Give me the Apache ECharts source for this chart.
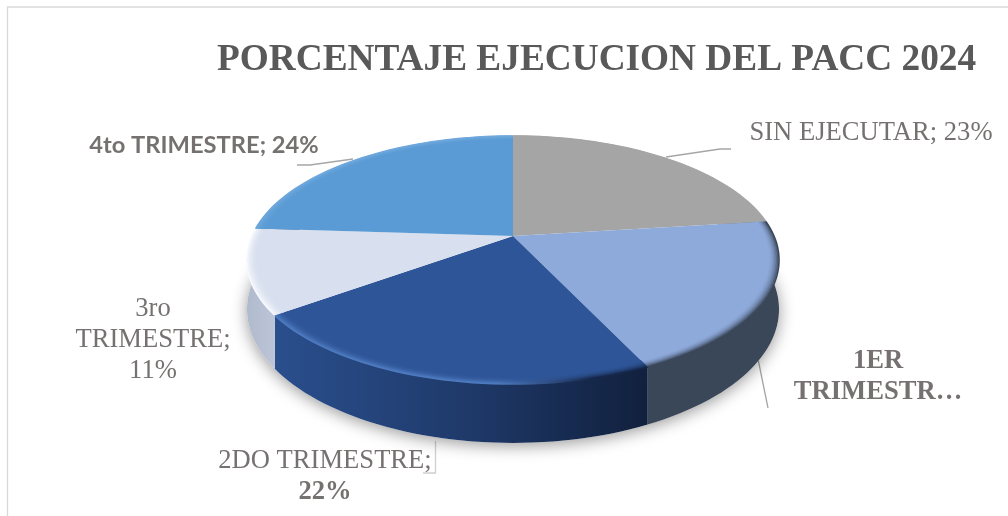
<!DOCTYPE html>
<html>
<head>
<meta charset="utf-8">
<title>PACC 2024</title>
<script src="https://cdn.jsdelivr.net/npm/echarts@6/dist/echarts.min.js"></script>
<style>
  html, body { margin: 0; padding: 0; background: #fff; }
  #chart { width: 1008px; height: 516px; }
</style>
</head>
<body>
<div id="chart"></div>
<script>
var categories = ['SIN EJECUTAR', '1ER TRIMESTRE', '2DO TRIMESTRE', '3ro TRIMESTRE', '4to TRIMESTRE']
var percents = [23, 20, 22, 11, 24]

var topColors = ['#a5a5a5', '#8eaadb', '#2e5597', '#d8dfee', '#5b9bd5']
// bevel colour at the left and right end of each slice
var rimColors = [
  ['#a5a5a5', '#a5a5a5'],
  ['#3a4759', '#3a4759'],
  ['#4d7abf', '#14264a'],
  ['#f6f9fd', '#f6f9fd'],
  ['#6da7dc', '#6da7dc']
]
// left, middle, right of the side wall
var wallColors = [
  ['#7c7c7c', '#7c7c7c', '#7c7c7c'],
  ['#3a4759', '#3a4759', '#3a4759'],
  ['#2a4f8d', '#1f3a6b', '#11203d'],
  ['#b0bacd', '#b6c0d2', '#bcc5d7'],
  ['#44749f', '#44749f', '#44749f']
]

// fake 3d pie: the disc is a circle seen in perspective
var cx = 513
var cy = 236
var A = 261
var B = 119.4
var K = 0.1935
var DEPTH = 47.5
var FONT_SERIF = '"Liberation Serif", "Times New Roman", serif'
var TOTAL = percents.reduce(function (s, v) { return s + v }, 0)

var slices = []
percents.reduce(function (start, v, i) {
  slices.push([start, start + v, i])
  return start + v
}, 0)

function project(pct, r) {
  var a = pct / TOTAL * Math.PI * 2
  var px = Math.sin(a) * r
  var py = -Math.cos(a) * r
  var w = 1 - K * py
  return { x: cx + A * px / w, y: cy + B * py / w, drop: DEPTH / w }
}

function rimPoints(from, to, r, useDrop) {
  var pts = []
  var n = Math.max(2, Math.ceil((to - from) * 2))
  for (var i = 0; i <= n; i++) {
    var p = project(from + (to - from) * i / n, r)
    pts.push([p.x, useDrop ? p.y + p.drop : p.y])
  }
  return pts
}

function renderShadow() {
  return {
    type: 'polygon',
    shape: { points: rimPoints(0, TOTAL, 1, true) },
    style: { fill: '#fff', shadowBlur: 16, shadowColor: 'rgba(0,0,0,0.4)', shadowOffsetY: 3 },
    silent: true
  }
}

function renderWall(params, api) {
  var from = api.value(0)
  var to = api.value(1)
  var i = api.value(2)
  var top = rimPoints(from, to, 1, false)
  var bottom = rimPoints(from, to, 1, true).reverse()
  return {
    type: 'polygon',
    shape: { points: top.concat(bottom) },
    style: {
      fill: new echarts.graphic.LinearGradient(0, 0, 1, 0, [
        { offset: 0, color: wallColors[i][0] },
        { offset: 0.5, color: wallColors[i][1] },
        { offset: 1, color: wallColors[i][2] }
      ])
    },
    silent: true
  }
}

function renderTop(params, api) {
  var from = api.value(0)
  var to = api.value(1)
  var i = api.value(2)
  var children = [{
    type: 'polygon',
    shape: { points: [[cx, cy]].concat(rimPoints(from, to, 1, false)) },
    style: { fill: topColors[i] }
  }]
  // soft bevel along the outer edge
  var bands = 8
  for (var b = 0; b <= bands; b++) {
    var t = b / bands
    var k = t * t
    var left = echarts.color.lerp(k, [topColors[i], rimColors[i][0]])
    var right = echarts.color.lerp(k, [topColors[i], rimColors[i][1]])
    children.push({
      type: 'polyline',
      shape: { points: rimPoints(from, to, 0.96 + 0.04 * t, false) },
      style: {
        fill: null,
        lineWidth: 1.6,
        stroke: new echarts.graphic.LinearGradient(0, 0, 1, 0, [
          { offset: 0, color: left },
          { offset: 0.6, color: left },
          { offset: 0.85, color: right },
          { offset: 1, color: right }
        ])
      }
    })
  }
  return { type: 'group', silent: true, children: children }
}

function label(text, x, y, rich, align) {
  return {
    type: 'text',
    x: x,
    y: y,
    silent: true,
    style: {
      text: text,
      align: align || 'center',
      verticalAlign: 'middle',
      rich: rich
    }
  }
}

function leader(points, color) {
  return {
    type: 'polyline',
    silent: true,
    shape: { points: points },
    style: { fill: null, stroke: color, lineWidth: 1.3 }
  }
}

var TEXT_GREY = '#767171'
var rich = {
  n: { fontFamily: FONT_SERIF, fontSize: 26.6, fill: TEXT_GREY, lineHeight: 31 },
  b: { fontFamily: FONT_SERIF, fontSize: 26.6, fontWeight: 'bold', fill: TEXT_GREY, lineHeight: 31 },
  s: { fontFamily: 'Lato', fontSize: 23.7, fontWeight: 'bold', fill: TEXT_GREY }
}

function pct(i) { return percents[i] + '%' }

var chart = echarts.init(document.getElementById('chart'), null, { renderer: 'canvas' })
chart.setOption({
  animation: false,
  backgroundColor: '#fff',
  title: {
    text: 'PORCENTAJE EJECUCION DEL PACC 2024',
    left: 212,
    top: 37,
    textStyle: { fontFamily: FONT_SERIF, fontSize: 37.3, fontWeight: 'bold', color: '#595959' }
  },
  graphic: [
    // frame of the pasted picture, only top and left show
    leader([[7.5, 516], [7.5, 7], [1008, 7]], '#d9d9d9'),
    leader([[666, 157], [720, 149], [731, 149]], '#a6a6a6'),
    leader([[353, 159], [310, 165], [297, 165]], '#a6a6a6'),
    leader([[758, 359], [768, 408]], '#a6a6a6'),
    leader([[435.5, 441], [435.5, 473], [423, 473]], '#cfcfcf'),
    label('{n|' + categories[0] + '; ' + pct(0) + '}', 871, 133, rich),
    label('{b|1ER}\n{b|TRIMESTR…}', 878, 377, rich),
    label('{n|2DO TRIMESTRE;}\n{b|' + pct(2) + '}', 325, 477, rich),
    label('{n|3ro}\n{n|TRIMESTRE;}\n{n|' + pct(3) + '}', 153, 340, rich),
    label('{s|' + categories[4] + '; ' + pct(4) + '}', 204, 145, rich)
  ],
  series: [
    { type: 'custom', coordinateSystem: 'none', z: 1, data: [[0]], renderItem: renderShadow },
    { type: 'custom', coordinateSystem: 'none', z: 2, data: slices, renderItem: renderWall },
    { type: 'custom', coordinateSystem: 'none', z: 3, data: slices, renderItem: renderTop }
  ]
})
</script>
</body>
</html>
